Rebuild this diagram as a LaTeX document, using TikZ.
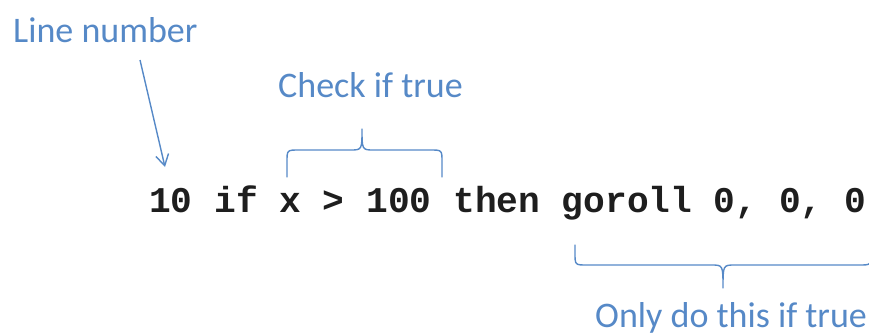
\documentclass[tikz,border=0pt]{standalone}
\usepackage{fontspec}
\setmainfont{Carlito}
\newfontfamily\codefont{Liberation Mono}
\usetikzlibrary{arrows.meta}
\definecolor{lblue}{RGB}{86,137,199}
\definecolor{codeblack}{RGB}{30,30,30}
\tikzset{
  lbl/.style={text=lblue, inner sep=0pt, anchor=base west, font=\fontsize{36}{42}\selectfont},
  code/.style={text=codeblack, inner sep=0pt, anchor=base west, font=\codefont\bfseries\fontsize{36.2}{42}\selectfont},
  bracestroke/.style={draw=lblue, line width=1.4pt, line cap=round, line join=round},
  pointer/.style={draw=lblue, line width=1.4pt, -{Straight Barb[length=11pt,width=13pt,line width=1.4pt]}}
}
\begin{document}
\begin{tikzpicture}[x=1pt,y=-1pt]
\useasboundingbox (0,0) rectangle (869,335);
\clip (0,0) rectangle (869,335);
\node[lbl] (ln) at (13,42) {Line number};
\node[lbl] (chk) at (278,97) {Check if true};
\node[lbl] (only) at (595,327) {Only do this if true};
\node[code] (line) at (149,212) {10 if x > 100 then goroll 0, 0, 0};
\coordinate (a1) at (140,60);
\coordinate (a2) at (165,167);
\draw[pointer] (a1) -- (a2);
% brace above x > 100
\draw[bracestroke] (287,177) -- (287,162) .. controls (287,150) .. (299,150) -- (350,150)
  .. controls (362,150) .. (362,129) .. controls (362,150) .. (374,150) -- (430,150)
  .. controls (442,150) .. (442,162) -- (442,177);
% brace below goroll 0, 0, 0
\draw[bracestroke] (575,245) -- (575,253) .. controls (575,265) .. (587,265) -- (711,265)
  .. controls (723,265) .. (723,288) .. controls (723,265) .. (735,265) -- (859,265)
  .. controls (871,265) .. (871,253) -- (871,245);
\end{tikzpicture}
\end{document}
